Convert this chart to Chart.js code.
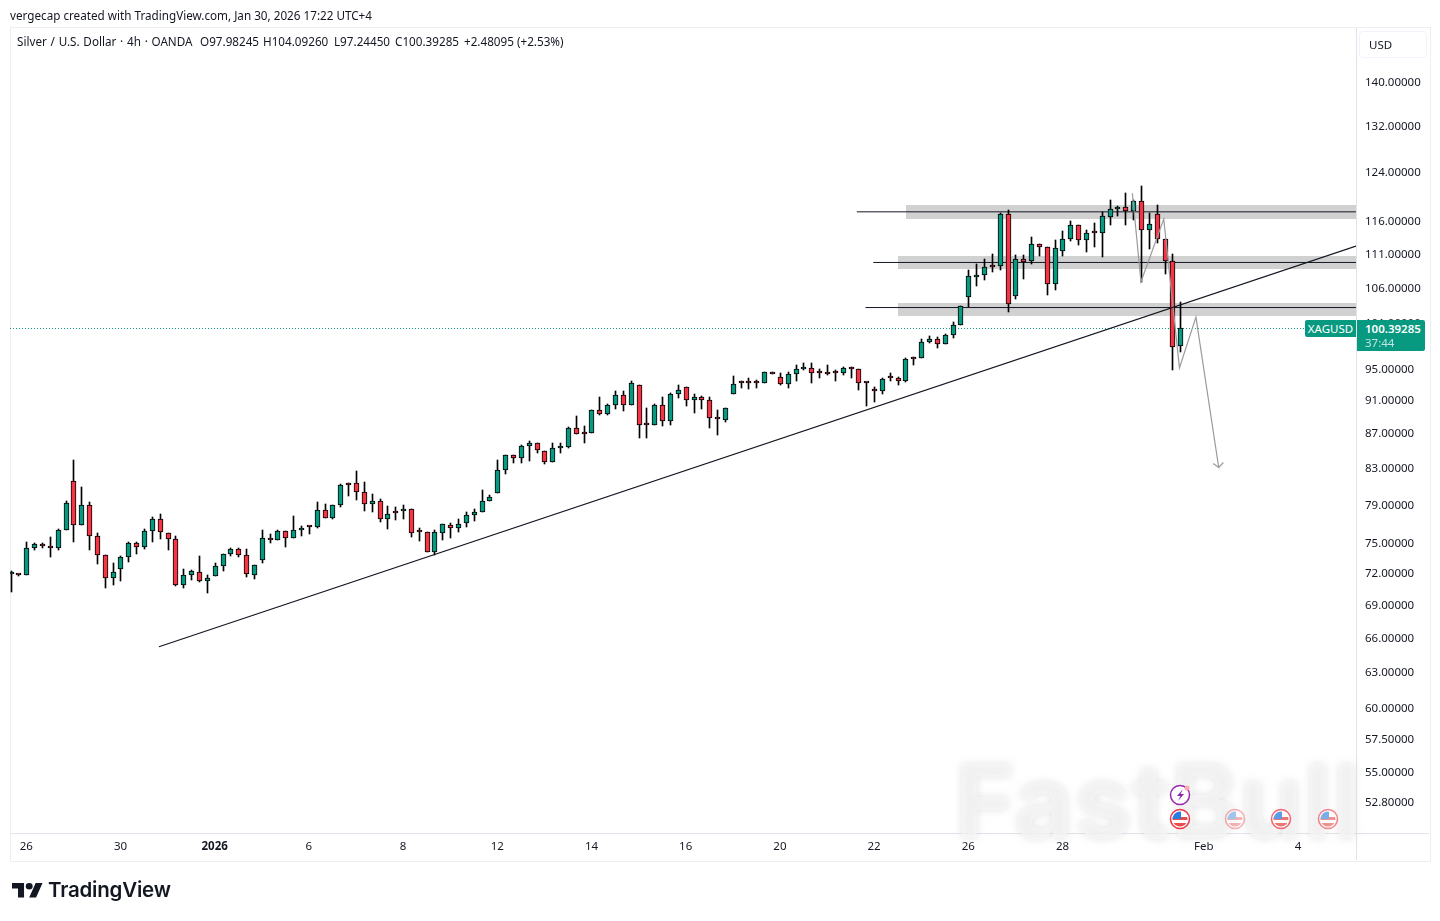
<!DOCTYPE html>
<html>
<head>
<meta charset="utf-8">
<title>XAGUSD 4h</title>
<script src="https://cdn.jsdelivr.net/npm/chart.js@4"></script>
<style>
  html, body { margin: 0; padding: 0; background: #fff; }
  body { width: 1440px; height: 921px; position: relative; overflow: hidden; font-family: "Noto Sans", sans-serif; color: #131722; }
  #chart { position: absolute; left: 0; top: 0; }
  .abs { position: absolute; white-space: nowrap; }
  .frame { left: 10px; top: 27px; width: 1419px; height: 833px; border: 1px solid #eceef2; }
  .sep-v { left: 1356px; top: 28px; width: 1px; height: 832px; background: #e0e3eb; }
  .sep-h { left: 11px; top: 833px; width: 1418px; height: 1px; background: #e0e3eb; }
  .created { left: 10px; top: 7px; font-size: 11.7px; line-height: 16px; }
  .legend { left: 17px; top: 33px; font-size: 11.7px; line-height: 16px; word-spacing: .7px; }
  .legend span { position: absolute; top: 0; word-spacing: 0; }
  .usd { left: 1359px; top: 31px; width: 66px; height: 25px; border: 1px solid #f0f3fa; border-radius: 4px; font-size: 11.5px; line-height: 25px; text-indent: 9px; }
  .sym { left: 1305px; top: 320px; width: 51px; height: 17px; background: #089981; color: #fff; font-size: 11.5px; line-height: 17px; text-align: center; border-radius: 2px 0 0 2px; }
  .last { left: 1357px; top: 320px; width: 68px; height: 31px; background: #089981; color: #fff; font-size: 11.5px; line-height: 14px; border-radius: 0 2px 2px 0; }
  .last div { padding-left: 8px; }
  .last .t1 { padding-top: 2px; font-weight: 600; }
  .last .t2 { opacity: .75; font-size: 11.5px; }
  .mark { left: 955px; top: 739px; font: bold 102px "Inter", "Noto Sans", sans-serif; letter-spacing: 1px; color: rgba(248,248,248,.65); text-shadow: 0 0 9px rgba(215,215,215,.7); pointer-events: none; }
  .brand { left: 48px; top: 877px; font: 600 20.5px "Inter", "Noto Sans", sans-serif; letter-spacing: -.2px; color: #131722; }
  svg.abs { overflow: visible; }
</style>
</head>
<body>
<div class="abs frame"></div>
<canvas id="chart" width="1440" height="921"></canvas>
<div class="abs sep-v"></div>
<div class="abs sep-h"></div>
<div class="abs created">vergecap created with TradingView.com, Jan 30, 2026 17:22 UTC+4</div>
<div class="abs legend">Silver / U.S. Dollar · 4h · OANDA<span style="left:183px">O97.98245</span><span style="left:246px">H104.09260</span><span style="left:317px">L97.24450</span><span style="left:378px">C100.39285</span><span style="left:447px">+2.48095 (+2.53%)</span></div>
<div class="abs usd">USD</div>
<div class="abs sym">XAGUSD</div>
<div class="abs last"><div class="t1">100.39285</div><div class="t2">37:44</div></div>
<div class="abs mark">FastBull</div>

<!-- event markers on the time axis -->
<svg class="abs" style="left:0;top:0" width="1440" height="921">
  <defs>
    <g id="flag">
      <clipPath id="fc"><circle r="7.5"/></clipPath>
      <circle r="9.5" fill="#fff" stroke="#f23645" stroke-width="1.5"/>
      <g clip-path="url(#fc)">
        <rect x="-8" y="-8" width="16" height="16" fill="#fff"/>
        <rect x="-8" y="-2" width="16" height="3" fill="#e84c4c"/>
        <rect x="-8" y="4" width="16" height="4" fill="#e84c4c"/>
        <rect x="-8" y="-8" width="9" height="8" fill="#2a7de1"/>
      </g>
    </g>
  </defs>
  <use href="#flag" x="1180" y="819"/>
  <use href="#flag" x="1235" y="819" opacity=".4"/>
  <use href="#flag" x="1281" y="819" opacity=".75"/>
  <use href="#flag" x="1328" y="819" opacity=".6"/>
  <circle cx="1180" cy="795" r="9.5" fill="#fff" stroke="#9c27b0" stroke-width="1.5"/>
  <path d="M1183 789l-6 7h3.5l-2.5 5 6-7h-3.5z" fill="#8e24aa"/>
  <circle cx="1187" cy="788" r="2.5" fill="#f7a8b0"/>
  <g transform="translate(12,883) scale(.86,.8)" fill="#131722">
    <path d="M14 18H7V7H0V0h14zM28 18h-8L27.5 0h8z"/><circle cx="20" cy="4" r="4"/>
  </g>
</svg>
<div class="abs brand">TradingView</div>

<script>
// Candles, oldest first. First entry is the bar clipped by the left edge
const firstBar = -2;
const opens = [72.01,72.01,71.87,74.6,75,74.8,74.6,76.44,81.64,76.96,79.07,75.82,73.89,71.62,72.5,73.69,75.1,74.7,76.34,77.58,76.13,75.5,70.94,71.91,72.2,71.32,71.81,72.8,73.99,74.5,73.89,71.91,73.39,75.61,75.4,76.34,75.61,
  76.44,76.75,76.75,78.54,77.69,79.07,81.28,81.47,80.48,79.18,79.5,77.58,78.22,78.44,78.65,76.23,76.23,74.19,76.13,76.96,76.64,77.16,78.01,78.33,79.5,80.37,82.92,84.62,84.27,85.65,
  86,85.07,83.81,85.42,85.5,87.77,87.05,87.17,89.95,89.46,90.55,91.79,90.55,93.05,88.13,88.13,90.55,88.6,91.92,92.8,91.17,91.54,91.17,88.8,88.72,
  91.92,93.29,93.29,93.29,93.29,94.71,94.06,93.18,94.45,94.97,95.22,94.58,94.71,94.55,94.58,95.22,94.97,93.27,92.55,92.3,93.89,93.94,93.55,96.38,96.52,98.63,99.03,98.24,99.57,
  100.8,104.7,107.58,107.87,109.19,109.19,117.17,104.84,110.23,109.93,112.5,112.04,106.56,111.44,113.26,115.43,113.1,114.2,114.2,116.69,117.97,118.29,117.65,119.25,114.66,117.17,113.26,110.07,97.98];
const highs = [72.33,72.01,75.23,75.1,75.1,75.71,76.54,79.5,84.07,80.95,79.39,76.13,73.89,73.12,73.79,75.2,75.2,76.54,77.79,78.11,76.13,75.82,72.5,72.4,73.79,71.91,73.09,73.99,74.6,74.6,74.5,72.9,76.44,76.03,76.44,76.34,77.9,
  76.85,76.85,79.42,79.18,79.07,81.36,81.47,82.81,81.58,80.26,79.72,78.97,78.86,79.07,78.65,76.64,76.23,76.44,77.05,77.16,77.58,78.33,78.65,80.63,80.15,84.07,84.62,84.62,85.77,86.23,
  86,85.07,86,86,87.89,89.21,88,89.95,91.54,90.68,92.3,92.3,93.55,93.05,90.19,90.68,91.54,92.05,93.05,92.8,91.92,91.67,91.54,89.95,90.19,
  94.19,93.55,93.94,93.68,94.71,94.71,94.58,94.71,95.61,95.87,95.87,95.09,95.61,94.84,95.35,95.35,94.97,93.42,92.8,93.94,94.58,94.06,96.52,96.65,99.03,99.44,99.3,99.71,101.34,
  103.43,108.6,109.49,110.23,110.98,117.33,117.81,110.84,110.84,113.57,112.5,112.04,113.1,114.51,116.06,115.43,114.66,115.75,117.49,119.41,118.45,120.56,119.41,121.71,117.33,118.61,113.26,110.98,104.09];
const lows = [70.23,71.77,71.87,74.36,74.56,73.65,74.36,76.44,75.16,76.96,74.36,72.96,70.62,70.9,71.28,73.15,73.95,74.46,75.16,75.46,74.36,70.81,70.62,71.38,71.19,70.14,71.81,72.26,73.75,73.65,71.71,71.48,73.05,75.1,75.4,74.66,75.61,
  75.78,75.99,76.64,77.69,77.58,78.86,80.04,79.56,78.4,78.29,77.27,76.5,77.43,77.54,75.68,75.26,74.19,73.89,75.36,75.57,76.2,76.71,77.33,78.33,79.5,80.37,82.43,83.66,83.66,83.88,
  84.84,83.59,83.81,84.84,85.42,87.05,86,87.17,89.34,89.34,90.07,89.78,90.55,86.54,86.54,88.13,88,88.13,91.42,90.43,89.58,90.07,87.77,86.92,88.48,
  91.92,92.67,92.55,92.67,93.29,94.45,93.05,92.67,93.55,94.84,93.29,93.94,94.32,93.55,94.32,93.94,92.42,90.41,90.92,91.92,93.55,93.05,93.42,95.61,96.52,98.5,97.71,98.24,99.17,
  100.8,103.29,106.27,107.14,108.31,108.65,102.68,104.5,107.28,109.49,110.69,105.07,105.79,110.69,112.95,112.35,111.29,112.04,110.53,115.43,116.85,115.43,116.21,106.94,111.74,112.64,108.02,94.87,97.24];
const closes = [72.05,71.87,74.6,75,74.76,74.6,76.44,79.29,76.96,79.07,75.82,73.89,71.62,72.2,73.69,75.1,74.7,76.34,77.58,76.23,75.5,70.94,71.91,72.3,71.32,71.62,72.8,73.99,74.5,73.89,72.01,72.9,75.61,75.4,76.34,75.61,76.44,
  76.64,76.73,78.54,77.69,79.07,81.25,81.26,80.48,79.18,79.5,77.58,78.11,78.2,78.65,76.13,76.21,74.19,76.23,77.05,76.64,77.05,78.01,78.33,79.5,79.94,82.92,84.62,84.27,85.65,86,
  85.19,83.81,85.42,85.54,87.77,87.05,87.03,89.95,89.46,90.55,91.79,90.55,93.3,88.13,88.11,90.55,88.6,91.92,92.43,91.17,91.54,91.17,88.97,88.78,90.19,
  93.18,93.27,93.27,93.27,94.71,94.45,93.18,94.45,94.97,95.22,94.58,94.56,94.45,94.5,95.22,94.97,93.29,93.23,92.3,93.81,93.87,93.55,96.38,96.36,98.63,99.03,98.24,99.57,100.8,
  103.43,107.72,107.87,109.05,109.17,117.17,103.71,110.23,109.87,112.5,112.04,106.56,111.89,113.26,115.43,113.1,114.2,114.18,116.85,117.97,118.29,117.65,119.25,114.66,115.59,113.26,110.07,97.96,100.39];

// Axis ticks
const priceTicks = [140,132,124,116,111,106,101,95,91,87,83,79,75,72,69,66,63,60,57.5,55,52.8];
const timeTickBars = [0,12,24,36,48,60,72,84,96,108,120,132,150,162];
const timeTickLabels = ['26','30','2026','6','8','12','14','16','20','22','26','28','Feb','4'];

// Drawings: support zones, their level lines, the trendline and the projected path
const zoneStart = [112.1,111,111];
const zoneHigh = [118.65,110.73,103.88];
const zoneLow = [116.42,108.84,102.12];
const levelStart = [105.8,107.9,106.9];
const levelPrice = [117.57,109.78,103.28];
const trendBars = [16.9,169.39];
const trendPrices = [65.24,112.24];
const pathBars = [140.9,142,144.9,146.9,149,151.9,151.2,151.9,152.5];
const pathPrices = [120.56,106.94,116.42,95.17,101.94,83.18,83.62,83.18,83.73];
const lastPrice = 100.39285;

const xMin = -2.076;
const xMax = 169.39;
const yMin = 50.7;
const yMax = 150.8;

const GREEN = '#089981';
const RED = '#F23645';

const toPoints = (xs, ys) => xs.map((x, i) => ({ x: x, y: ys[i] }));

const bodies = opens.map((o, i) => ({ x: i + firstBar, y: [o, closes[i]] }));
const wicks = lows.map((l, i) => ({ x: i + firstBar, y: [l, highs[i]] }));

const drawingDefaults = { type: 'line', pointRadius: 0, tension: 0, fill: false };

const levelSets = levelPrice.map((p, i) => ({
  ...drawingDefaults,
  data: toPoints([levelStart[i], xMax], [p, p]),
  borderColor: '#131722',
  borderWidth: 1,
  order: 5
}));

// Grey zones sit under everything else
const zonePlugin = {
  id: 'zones',
  beforeDatasetsDraw(chart) {
    const { ctx, scales, chartArea } = chart;
    ctx.save();
    ctx.fillStyle = '#d1d1d1';
    zoneHigh.forEach((h, i) => {
      const left = Math.round(scales.x.getPixelForValue(zoneStart[i]));
      const top = Math.round(scales.y.getPixelForValue(h));
      const bottom = Math.round(scales.y.getPixelForValue(zoneLow[i]));
      ctx.fillRect(left, top, chartArea.right - left, bottom - top);
    });
    ctx.restore();
  }
};

// Line candles up with whole pixels so wicks stay 1px wide
const snapPlugin = {
  id: 'snap',
  afterDatasetsUpdate(chart) {
    chart.getSortedVisibleDatasetMetas().forEach(meta => {
      if (meta.type !== 'bar') return;
      meta.data.forEach(el => {
        el.x = Math.round(el.x) + 0.5;
        el.y = Math.round(el.y);
        el.base = Math.round(el.base);
      });
    });
  }
};

new Chart(document.getElementById('chart'), {
  type: 'bar',
  data: {
    datasets: [
      {
        ...drawingDefaults,
        data: toPoints(trendBars, trendPrices),
        borderColor: '#131722',
        borderWidth: 1.2,
        order: 0
      },
      {
        ...drawingDefaults,
        data: toPoints(pathBars, pathPrices),
        borderColor: '#9a9a9a',
        borderWidth: 1.2,
        order: 1
      },
      {
        type: 'bar',
        data: bodies,
        grouped: false,
        barThickness: 5,
        minBarLength: 2,
        borderWidth: 1,
        borderSkipped: false,
        borderColor: '#000',
        backgroundColor: ctx => {
          const v = ctx.raw && ctx.raw.y;
          return v && v[1] >= v[0] ? GREEN : RED;
        },
        order: 2
      },
      {
        type: 'bar',
        data: wicks,
        grouped: false,
        barThickness: 1,
        borderWidth: 0,
        backgroundColor: '#000',
        order: 3
      },
      {
        ...drawingDefaults,
        data: toPoints([xMin, 163.05], [lastPrice, lastPrice]),
        borderColor: GREEN,
        borderWidth: 1,
        borderDash: [1, 2],
        order: 4
      },
      ...levelSets
    ]
  },
  plugins: [zonePlugin, snapPlugin],
  options: {
    responsive: false,
    animation: false,
    events: [],
    layout: { padding: { left: 10, top: 28, right: 10, bottom: 60 } },
    plugins: { legend: { display: false }, tooltip: { enabled: false } },
    scales: {
      x: {
        type: 'linear',
        offset: false,
        bounds: 'data',
        min: xMin,
        max: xMax,
        grid: { display: false, drawTicks: false },
        border: { display: false },
        afterBuildTicks: scale => { scale.ticks = timeTickBars.map(v => ({ value: v })); },
        afterFit: scale => { scale.height = 28; },
        ticks: {
          autoSkip: false,
          maxRotation: 0,
          padding: 7,
          color: '#131722',
          font: ctx => ({
            family: '"Noto Sans", sans-serif',
            size: 11.5,
            weight: ctx.tick && ctx.tick.value === 24 ? 'bold' : 'normal'
          }),
          callback: value => timeTickLabels[timeTickBars.indexOf(value)]
        }
      },
      y: {
        type: 'logarithmic',
        position: 'right',
        bounds: 'data',
        min: yMin,
        max: yMax,
        grid: { display: false, drawTicks: false },
        border: { display: false },
        afterBuildTicks: scale => { scale.ticks = priceTicks.map(v => ({ value: v })); },
        afterFit: scale => { scale.width = 74; },
        ticks: {
          autoSkip: false,
          padding: 9,
          color: '#131722',
          font: { family: '"Noto Sans", sans-serif', size: 11.5 },
          callback: value => value.toFixed(5)
        }
      }
    }
  }
});
</script>
</body>
</html>
